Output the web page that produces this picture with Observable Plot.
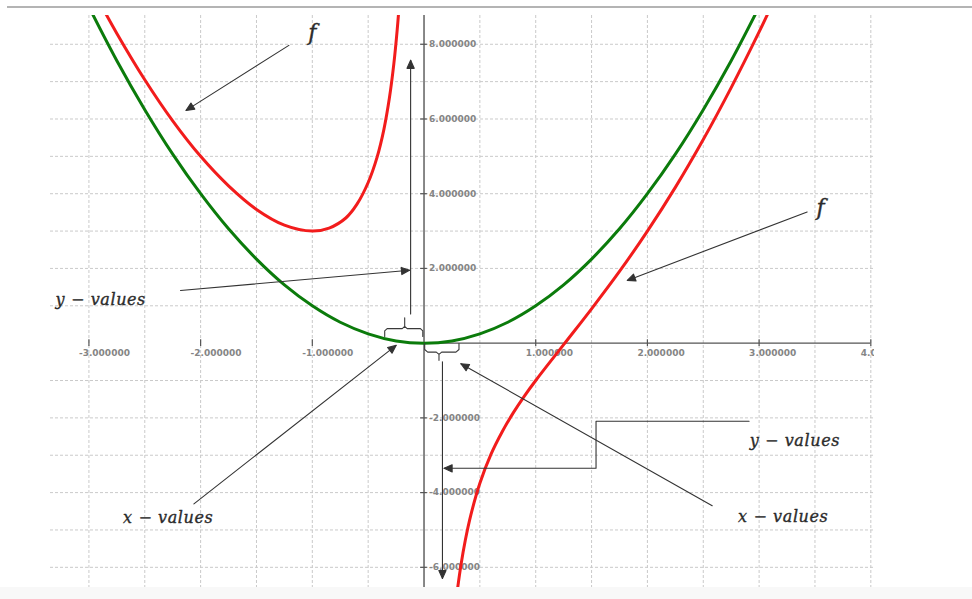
<!DOCTYPE html>
<html>
<head>
<meta charset="utf-8">
<script src="https://cdn.jsdelivr.net/npm/d3@7"></script>
<script src="https://cdn.jsdelivr.net/npm/@observablehq/plot@0.6"></script>
<style>
  html, body { margin: 0; padding: 0; background: #fff; }
  #wrap { position: relative; width: 972px; height: 599px; overflow: hidden; }
  #topline { position: absolute; left: 7px; right: 0; top: 6px; height: 2px; background: #b4b4b4; }
  #footband { position: absolute; left: 0; right: 0; bottom: 0; height: 12px; background: #f8f8f8; }
  .note text { letter-spacing: 0.6px; }
</style>
</head>
<body>
<div id="wrap"><div id="chart"></div><div id="topline"></div><div id="footband"></div></div>
<script>
// g(x) = x², sampled points
const greenX = [-3, -2.75, -2.5, -2.25, -2, -1.75, -1.5, -1.25, -1, -0.75, -0.5, -0.25, 0,
                0.25, 0.5, 0.75, 1, 1.25, 1.5, 1.75, 2, 2.25, 2.5, 2.75, 3];
const greenY = [9, 7.56, 6.25, 5.06, 4, 3.06, 2.25, 1.56, 1, 0.56, 0.25, 0.06, 0,
                0.06, 0.25, 0.56, 1, 1.56, 2.25, 3.06, 4, 5.06, 6.25, 7.56, 9];

// f, branch left of the y-axis
const redLeftX = [-2.9, -2.75, -2.5, -2.25, -2, -1.75, -1.5, -1.25, -1, -0.85, -0.7, -0.6,
                  -0.5, -0.42, -0.36, -0.31, -0.27, -0.24, -0.22];
const redLeftY = [9.1, 8.29, 7.05, 5.95, 5, 4.21, 3.58, 3.16, 3, 3.08, 3.35, 3.72,
                  4.3, 4.98, 5.71, 6.56, 7.48, 8.39, 9.14];

// f, branch right of the y-axis
const redRightX = [0.28, 0.3, 0.33, 0.37, 0.42, 0.5, 0.6, 0.7, 0.8, 0.9, 1, 1.25, 1.5,
                   1.75, 2, 2.25, 2.5, 2.75, 3, 3.1];
const redRightY = [-7.06, -6.58, -5.95, -5.27, -4.59, -3.75, -2.97, -2.37, -1.86, -1.41, -1,
                   -0.04, 0.92, 1.92, 3, 4.17, 5.45, 6.84, 8.33, 8.96];

// axes and grid
const xTicks = [-3, -2, -1, 1, 2, 3, 4];
const yTicks = [-6, -4, -2, 2, 4, 6, 8];
const gridX = [-3, -2.5, -2, -1.5, -1, -0.5, 0.5, 1, 1.5, 2, 2.5, 3, 3.5, 4];
const gridY = [-6, -5, -4, -3, -2, -1, 1, 2, 3, 4, 5, 6, 7, 8];

// pointer lines (each ends in an arrow head)
const pointerX = [[-1.21, -2.13], [3.43, 1.82], [-2.18, -0.13], [-0.12, -0.12],
                  [-2.06, -0.25], [2.58, 0.33], [0.165, 0.165], [2.91, 1.54, 1.54, 0.18]];
const pointerY = [[7.97, 6.23], [3.51, 1.68], [1.41, 1.95], [0.78, 7.57],
                  [-4.30, -0.06], [-4.35, -0.55], [-0.50, -6.30], [-2.09, -2.09, -3.35, -3.35]];

// curly braces marking the x-range near the origin
const braceX = [[-0.352, -0.352, -0.33, -0.195, -0.173, -0.173, -0.173, -0.151, -0.032, -0.011, -0.011],
                [0.006, 0.006, 0.033, 0.11, 0.134, 0.134, 0.134, 0.158, 0.286, 0.313, 0.313]];
const braceY = [[0.18, 0.33, 0.39, 0.39, 0.45, 0.68, 0.45, 0.39, 0.39, 0.33, 0.18],
                [-0.01, -0.17, -0.24, -0.24, -0.30, -0.46, -0.30, -0.24, -0.24, -0.17, -0.01]];

// annotation labels
const fLabelX = [-1.0, 3.55];
const fLabelY = [8.31, 3.63];
const noteText = ["y \u2212 values", "x \u2212 values", "y \u2212 values", "x \u2212 values"];
const noteX = [-2.894, -2.29, 3.32, 3.216];
const noteY = [1.17, -4.67, -2.62, -4.66];

const toRows = (xs, ys) => xs.map((x, i) => ({x, y: ys[i]}));
const toGroups = (xss, yss) => xss.flatMap((xs, k) => xs.map((x, j) => ({id: k, x, y: yss[k][j]})));

// filled triangular arrow head
function solidHead(color, context) {
  const ns = "http://www.w3.org/2000/svg";
  const doc = (context && context.document) || document;
  const m = doc.createElementNS(ns, "marker");
  m.setAttribute("viewBox", "-9 -5 10 10");
  m.setAttribute("markerWidth", "10");
  m.setAttribute("markerHeight", "10");
  m.setAttribute("markerUnits", "userSpaceOnUse");
  m.setAttribute("orient", "auto");
  m.setAttribute("overflow", "visible");
  const p = doc.createElementNS(ns, "path");
  p.setAttribute("d", "M-8,-3.6L0,0L-8,3.6Z");
  p.setAttribute("fill", color);
  m.appendChild(p);
  return m;
}

const axisColor = "#555";
const gridStyle = {stroke: "#cacaca", strokeWidth: 1, strokeDasharray: "3,2"};
const tickFont = {fontSize: 9, fontWeight: "bold", fill: "#858585", fontFamily: "DejaVu Sans"};
const noteFont = {fontFamily: "DejaVu Serif", fontStyle: "italic", fill: "#2b2b2b", stroke: "#2b2b2b", strokeWidth: 0.35};

const chart = Plot.plot({
  width: 972,
  height: 599,
  marginLeft: 50,
  marginRight: 98,
  marginTop: 15,
  marginBottom: 12,
  x: {domain: [-3.344, 4.033], axis: null},
  y: {domain: [-6.54, 8.77], axis: null},
  style: {background: "white"},
  marks: [
    Plot.ruleX(gridX, gridStyle),
    Plot.ruleY(gridY, gridStyle),
    Plot.ruleY([0], {x2: 4, stroke: axisColor, strokeWidth: 1.4}),
    Plot.ruleX([0], {stroke: axisColor, strokeWidth: 1.4}),
    Plot.ruleX(xTicks, {y1: -0.09, y2: 0.09, stroke: axisColor, strokeWidth: 1.2}),
    Plot.ruleY(yTicks, {x1: -0.03, x2: 0.03, stroke: axisColor, strokeWidth: 1.2}),
    Plot.text(xTicks, {x: d => d, y: 0, text: d => d.toFixed(6), textAnchor: "start", dx: -10, dy: 10, clip: true, ...tickFont}),
    Plot.text(yTicks, {x: 0, y: d => d, text: d => d.toFixed(6), textAnchor: "start", dx: 5, ...tickFont}),
    Plot.line(toRows(greenX, greenY), {x: "x", y: "y", stroke: "#0b7b0b", strokeWidth: 3, curve: "catmull-rom", clip: true}),
    Plot.line(toRows(redLeftX, redLeftY), {x: "x", y: "y", stroke: "#f21c1c", strokeWidth: 3, curve: "catmull-rom", clip: true}),
    Plot.line(toRows(redRightX, redRightY), {x: "x", y: "y", stroke: "#f21c1c", strokeWidth: 3, curve: "catmull-rom", clip: true}),
    Plot.line(toGroups(braceX, braceY), {x: "x", y: "y", z: "id", stroke: "#3a3a3a", strokeWidth: 1.1}),
    Plot.line(toGroups(pointerX, pointerY), {x: "x", y: "y", z: "id", stroke: "#333", strokeWidth: 1.1, markerEnd: solidHead}),
    Plot.text(toRows(fLabelX, fLabelY), {x: "x", y: "y", text: () => "f", fontSize: 22, ...noteFont}),
    Plot.text(noteText, {x: (d, i) => noteX[i], y: (d, i) => noteY[i], text: d => d, fontSize: 16, className: "note", ...noteFont})
  ]
});

document.getElementById("chart").appendChild(chart);
</script>
</body>
</html>
